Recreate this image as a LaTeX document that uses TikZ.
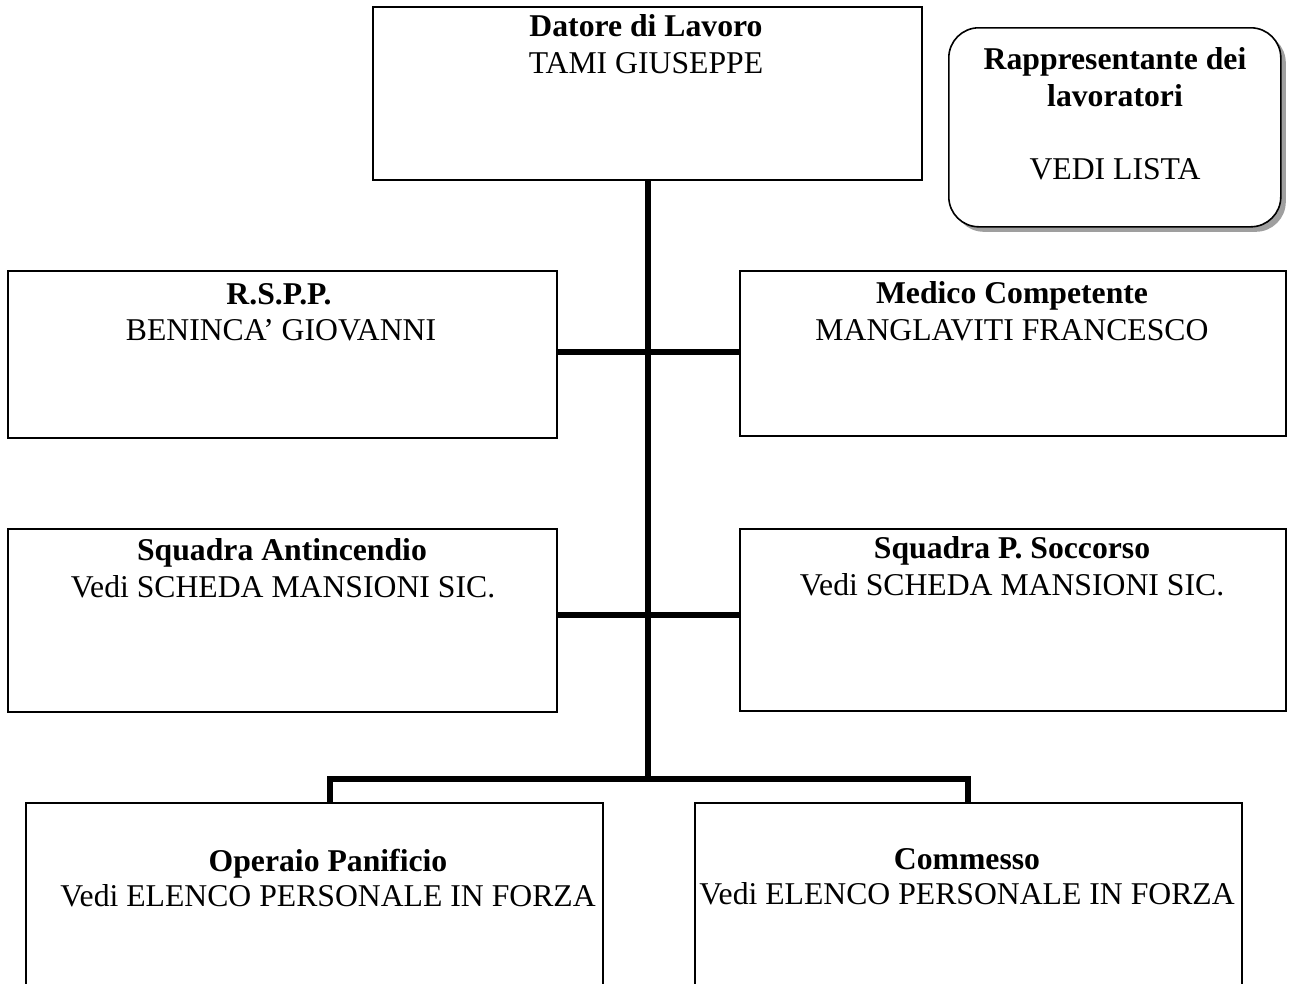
\documentclass[tikz,border=0pt]{standalone}
\usepackage{fontspec}
\setmainfont{Liberation Serif}
\usetikzlibrary{shadows}
\begin{document}
\begin{tikzpicture}[x=1pt,y=-1pt,
  box/.style={draw=black,line width=1.6pt,rectangle,inner sep=0pt,anchor=north west},
  rbox/.style={draw=black,line width=1.6pt,rectangle,rounded corners=30pt,inner sep=0pt,anchor=north west,fill=white,
    drop shadow={shadow xshift=5pt,shadow yshift=-5pt,fill=gray!75,opacity=1}},
  ttl/.style={anchor=base,inner sep=0pt,font=\fontsize{31.7}{36}\selectfont\bfseries},
  nam/.style={anchor=base,inner sep=0pt,font=\fontsize{31.7}{36}\selectfont},
  conn/.style={line width=6pt,line join=miter,line cap=butt}]
\useasboundingbox (0,0) rectangle (1290,983);
% boxes
\node[box,minimum width=549pt,minimum height=173pt] (datore) at (372,6) {};
\node[rbox,minimum width=332pt,minimum height=199pt] (rapp) at (948,27) {};
\node[box,minimum width=549pt,minimum height=167pt] (rspp) at (7,270) {};
\node[box,minimum width=546pt,minimum height=165pt] (medico) at (739,270) {};
\node[box,minimum width=549pt,minimum height=183pt] (antinc) at (7,528) {};
\node[box,minimum width=546pt,minimum height=182pt] (socc) at (739,528) {};
\node[box,minimum width=577pt,minimum height=190pt] (operaio) at (25,802) {};
\node[box,minimum width=547pt,minimum height=190pt] (commesso) at (694,802) {};
% texts
\node[ttl] (datoreT) at (646,36) {Datore di Lavoro};
\node[nam] (datoreN) at (646,73) {TAMI GIUSEPPE};
\node[ttl] (rappT1) at (1115,69) {Rappresentante dei};
\node[ttl] (rappT2) at (1115,106) {lavoratori};
\node[nam] (rappN) at (1115,179) {VEDI LISTA};
\node[ttl] (rsppT) at (279,304) {R.S.P.P.};
\node[nam] (rsppN) at (281,340) {BENINCA’ GIOVANNI};
\node[ttl] (medicoT) at (1012,303) {Medico Competente};
\node[nam] (medicoN) at (1012,340) {MANGLAVITI FRANCESCO};
\node[ttl] (antincT) at (282,560) {Squadra Antincendio};
\node[nam] (antincN) at (283,597) {Vedi SCHEDA MANSIONI SIC.};
\node[ttl] (soccT) at (1012,558) {Squadra P. Soccorso};
\node[nam] (soccN) at (1012,595) {Vedi SCHEDA MANSIONI SIC.};
\node[ttl] (operaioT) at (328,871) {Operaio Panificio};
\node[nam] (operaioN) at (328,906) {Vedi ELENCO PERSONALE IN FORZA};
\node[ttl] (commessoT) at (967,869) {Commesso};
\node[nam] (commessoN) at (967,904) {Vedi ELENCO PERSONALE IN FORZA};
% connectors
\coordinate (split) at (648,779);
\draw[conn] (datore.south -| split) -- (split);
\draw[conn] (rspp.east |- 0,352) -- (medico.west |- 0,352);
\draw[conn] (antinc.east |- 0,615) -- (socc.west |- 0,615);
\draw[conn] (operaio.north -| 330,0) -- (330,779) -- (968,779) -- (commesso.north -| 968,0);
\end{tikzpicture}
\end{document}
